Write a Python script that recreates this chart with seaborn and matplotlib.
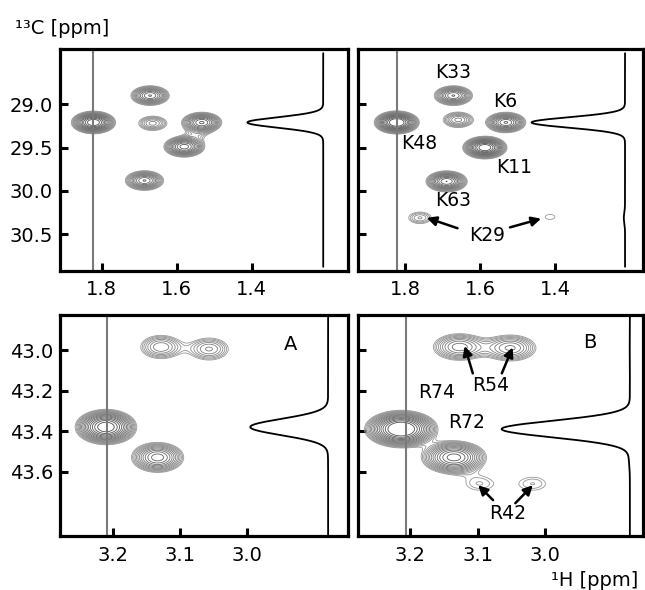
import numpy as np
import matplotlib.pyplot as plt
import seaborn as sns

sns.set_theme(style='white')
plt.rcParams['font.family'] = ['DejaVu Sans']
plt.rcParams.update({'text.color': 'black', 'xtick.color': 'black',
                     'ytick.color': 'black', 'axes.labelcolor': 'black'})

# Lys region: 1H shift, 13C shift, peak height (lowest contour = 1)
lys_a_h = [1.822, 1.671, 1.664, 1.533, 1.580, 1.686, 1.547]
lys_a_c = [29.21, 28.90, 29.22, 29.21, 29.49, 29.88, 29.35]
lys_a_amp = [11.0, 6.0, 2.6, 7.0, 7.5, 6.0, 1.05]

lys_b_h = [1.822, 1.671, 1.658, 1.531, 1.587, 1.689, 1.760, 1.413]
lys_b_c = [29.21, 28.90, 29.18, 29.21, 29.50, 29.89, 30.31, 30.30]
lys_b_amp = [12.0, 6.0, 3.0, 7.0, 11.0, 8.0, 1.85, 1.12]

# Arg region
arg_a_h = [3.210, 3.133, 3.128, 3.056]
arg_a_c = [43.38, 43.53, 42.985, 42.995]
arg_a_amp = [11.0, 5.6, 2.8, 2.5]

arg_b_h = [3.213, 3.135, 3.127, 3.051, 3.097, 3.018]
arg_b_c = [43.39, 43.53, 42.985, 42.99, 43.66, 43.66]
arg_b_amp = [13.0, 7.5, 3.6, 3.4, 1.35, 1.35]

# 1H position of the 1D slice (grey line)
slice_h = [1.822, 1.820, 3.208, 3.206]

lys_xticks = [1.8, 1.6, 1.4]
lys_yticks = [29.0, 29.5, 30.0, 30.5]
arg_xticks = [3.2, 3.1, 3.0]
arg_yticks = [43.0, 43.2, 43.4, 43.6]

W, H = 645, 590
fig = plt.figure(figsize=(W / 100, H / 100), dpi=100)

# layout: pixel box, limits, linewidths (sigma 1H, sigma 13C), trace baseline/tip (axes fraction)
panels = [
    dict(box=(60, 49.3, 348.3, 270.7), xlim=(1.9112, 1.1424), ylim=(30.92, 28.366),
         h=lys_a_h, c=lys_a_c, amp=lys_a_amp, sig=(0.027, 0.06), trace=(0.913, 0.65),
         xt=lys_xticks, yt=lys_yticks, ylab=True, tpad=0.045),
    dict(box=(357.7, 49.3, 642.7, 270.7), xlim=(1.9261, 1.1661), ylim=(30.92, 28.366),
         h=lys_b_h, c=lys_b_c, amp=lys_b_amp, sig=(0.027, 0.06), trace=(0.938, 0.61),
         xt=lys_xticks, yt=lys_yticks, ylab=False, tpad=0.045),
    dict(box=(60, 315, 348.3, 536), xlim=(3.2786, 2.8484), ylim=(43.918, 42.827),
         h=arg_a_h, c=arg_a_c, amp=arg_a_amp, sig=(0.021, 0.04), trace=(0.93, 0.66),
         xt=arg_xticks, yt=arg_yticks, ylab=True, tpad=0.0),
    dict(box=(357.7, 315, 642.7, 536), xlim=(3.2775, 2.8553), ylim=(43.918, 42.827),
         h=arg_b_h, c=arg_b_c, amp=arg_b_amp, sig=(0.024, 0.041), trace=(0.955, 0.505),
         xt=arg_xticks, yt=arg_yticks, ylab=False, tpad=0.0),
]

levels = 1.0 * 1.16 ** np.arange(16)
level_cols = [str(g) for g in np.linspace(0.6, 0.3, len(levels))]

axes = []
for i, p in enumerate(panels):
    x0, y0, x1, y1 = p['box']
    ax = fig.add_axes([x0 / W, 1 - y1 / H, (x1 - x0) / W, (y1 - y0) / H])
    axes.append(ax)

    gx = np.linspace(min(p['xlim']), max(p['xlim']), 600)
    gy = np.linspace(min(p['ylim']), max(p['ylim']), 600)
    X, Y = np.meshgrid(gx, gy)
    sx, sy = p['sig']
    Z = np.zeros_like(X)
    for h, c, a in zip(p['h'], p['c'], p['amp']):
        Z += a * np.exp(-((X - h) ** 2 / (2 * sx ** 2) + (Y - c) ** 2 / (2 * sy ** 2)))
    ax.contour(X, Y, Z, levels=levels, colors=level_cols, linewidths=0.6)

    ax.axvline(slice_h[i], color='#7a7a7a', lw=1.5)

    ax.set_xlim(p['xlim'])
    ax.set_ylim(p['ylim'])
    ax.set_xticks(p['xt'])
    ax.set_yticks(p['yt'])
    ax.set_xticklabels([f'{v:.1f}' for v in p['xt']])
    if p['ylab']:
        ax.set_yticklabels([f'{v:.1f}' for v in p['yt']])
    else:
        ax.set_yticklabels([])
    ax.tick_params(direction='in', length=6, width=2.2, labelsize=14, color='black',
                   bottom=True, left=True, top=False, right=False)
    ax.tick_params(axis='x', pad=7)
    ax.tick_params(axis='y', pad=5)
    for s in ax.spines.values():
        s.set_linewidth(2.3)
        s.set_color('black')
        s.set_visible(True)

    # 1D slice at the grey line, drawn in an overlay sharing the 13C axis
    ty = np.linspace(min(p['ylim']) + p['tpad'], max(p['ylim']) - p['tpad'], 600)
    tr = np.zeros_like(ty)
    for h, c, a in zip(p['h'], p['c'], p['amp']):
        tr += a * np.exp(-((slice_h[i] - h) ** 2 / (2 * sx ** 2) + (ty - c) ** 2 / (2 * sy ** 2)))
    tax = ax.inset_axes([0, 0, 1, 1])
    sns.lineplot(x=tr, y=ty, sort=False, estimator=None, color='black', lw=1.3, ax=tax)
    b, t = p['trace']
    P = tr.max()
    L = b * P / (b - t)
    tax.set_xlim(L, L - P / (b - t))
    tax.set_ylim(p['ylim'])
    tax.set_xticks([])
    tax.set_yticks([])
    tax.axis('off')
    tax.patch.set_alpha(0)

arrow = dict(arrowstyle='-|>', color='black', lw=1.8, mutation_scale=14, shrinkA=0, shrinkB=0)
fs = 13.5

ax = axes[1]
lys_labels = ['K33', 'K6', 'K48', 'K11', 'K63']
lys_label_xy = [(1.672, 28.634), (1.533, 28.966), (1.763, 29.458), (1.509, 29.732), (1.672, 30.11)]
for lab, (x, y) in zip(lys_labels, lys_label_xy):
    ax.text(x, y, lab, fontsize=fs, ha='center', va='center')
ax.text(1.581, 30.51, 'K29', fontsize=fs, ha='center', va='center')
ax.annotate('', xy=(1.742, 30.31), xytext=(1.660, 30.43), arrowprops=arrow)
ax.annotate('', xy=(1.437, 30.32), xytext=(1.520, 30.42), arrowprops=arrow)

ax = axes[2]
ax.text(2.935, 42.975, 'A', fontsize=14, ha='center', va='center')

ax = axes[3]
ax.text(2.933, 42.965, 'B', fontsize=14, ha='center', va='center')
ax.text(3.160, 43.212, 'R74', fontsize=fs, ha='center', va='center')
ax.text(3.116, 43.36, 'R72', fontsize=fs, ha='center', va='center')
ax.text(3.080, 43.173, 'R54', fontsize=fs, ha='center', va='center')
ax.annotate('', xy=(3.119, 42.98), xytext=(3.107, 43.115), arrowprops=arrow)
ax.annotate('', xy=(3.048, 42.987), xytext=(3.064, 43.115), arrowprops=arrow)
ax.text(3.056, 43.805, 'R42', fontsize=fs, ha='center', va='center')
ax.annotate('', xy=(3.099, 43.667), xytext=(3.077, 43.741), arrowprops=arrow)
ax.annotate('', xy=(3.018, 43.667), xytext=(3.044, 43.756), arrowprops=arrow)

fig.text(15 / W, 1 - 28 / H, '¹³C [ppm]', fontsize=14, ha='left', va='center')
fig.text(638 / W, 1 - 581 / H, '¹H [ppm]', fontsize=14, ha='right', va='center')

fig.savefig('out.png', dpi=100)
